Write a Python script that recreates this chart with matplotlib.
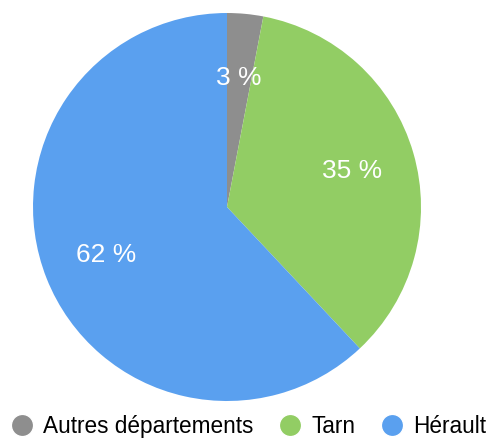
import matplotlib
matplotlib.use('Agg')
import matplotlib.pyplot as plt
from matplotlib.lines import Line2D

plt.rcParams['font.family'] = ['Liberation Sans', 'DejaVu Sans']

# Données
labels = ['Autres départements', 'Tarn', 'Hérault']
values = [3, 35, 62]
colors = ['#8e8e8e', '#92cd64', '#5aa0ef']

fig = plt.figure(figsize=(4.97, 4.41), dpi=100)
ax = fig.add_axes([0.0664, 0.0907, 0.7807, 0.8798])

wedges, texts, autotexts = ax.pie(
    values, colors=colors, startangle=90, counterclock=False,
    autopct=lambda p: f'{p:.0f} %', pctdistance=0.67,
    wedgeprops=dict(linewidth=0),
    textprops=dict(color='white', fontsize=19),
)
ax.set_xlim(-1, 1)
ax.set_ylim(-1, 1)
ax.set_aspect('equal')

handles = [Line2D([0], [0], marker='o', color='w', markerfacecolor=c,
                  markersize=16, linewidth=0) for c in colors]
fig.legend(handles, labels, loc='lower center', bbox_to_anchor=(0.5, -0.04),
           ncol=3, frameon=False, fontsize=16.3, handletextpad=0.45,
           columnspacing=1.1, handlelength=1.0)

fig.savefig('out.png', dpi=100)
